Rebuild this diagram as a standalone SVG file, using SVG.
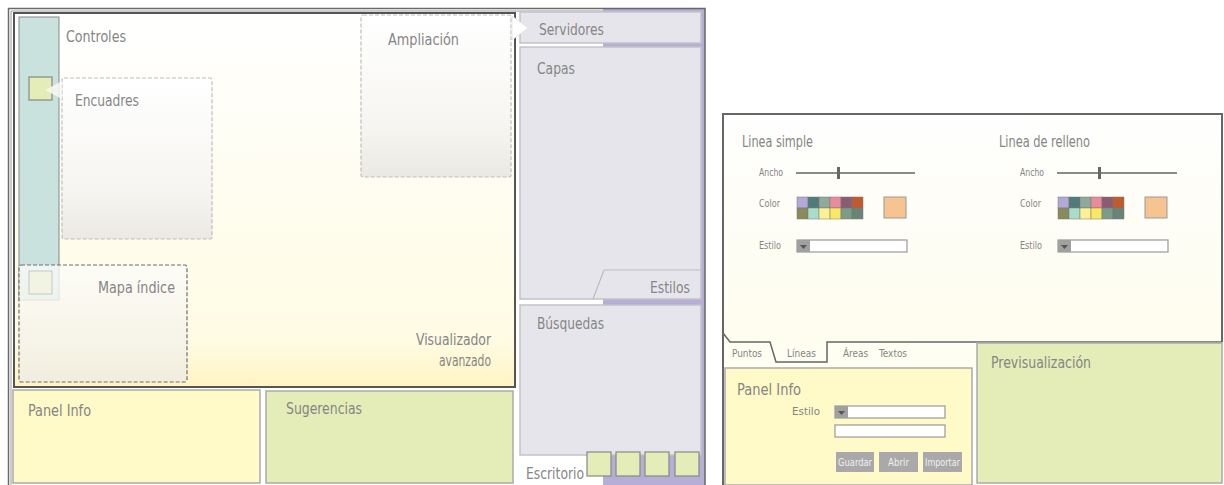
<svg xmlns="http://www.w3.org/2000/svg" width="1224" height="485" viewBox="0 0 1224 485">
<defs>
<linearGradient id="visGrad" x1="0" y1="0" x2="0" y2="1">
<stop offset="0" stop-color="#ffffff"/>
<stop offset="0.55" stop-color="#fffdee"/>
<stop offset="0.88" stop-color="#fffbe3"/>
<stop offset="1" stop-color="#fff4c2"/>
</linearGradient>
<linearGradient id="boxGrad" x1="0" y1="0" x2="0" y2="1">
<stop offset="0" stop-color="#ffffff"/>
<stop offset="0.7" stop-color="#f6f5f1"/>
<stop offset="1" stop-color="#ebe9e2"/>
</linearGradient>
<linearGradient id="mapaGrad" x1="0" y1="0" x2="0" y2="1">
<stop offset="0" stop-color="#fcfcfa" stop-opacity="0.75"/>
<stop offset="1" stop-color="#f1ede0" stop-opacity="0.92"/>
</linearGradient>
<linearGradient id="rightGrad" x1="0" y1="0" x2="0" y2="1">
<stop offset="0" stop-color="#fefefe"/>
<stop offset="1" stop-color="#fffdec"/>
</linearGradient>
<style>
.lbl{font-family:"Liberation Sans Narrow","DejaVu Sans Condensed","Liberation Sans",sans-serif;fill:#858585;font-size:16px;}
.sm{font-family:"Liberation Sans Narrow","DejaVu Sans Condensed","Liberation Sans",sans-serif;fill:#858585;font-size:11px;}
.btn{font-family:"Liberation Sans Narrow","DejaVu Sans Condensed","Liberation Sans",sans-serif;fill:#efefef;font-size:10.5px;}
.gbox{fill:#e7e5ec;stroke:#c4c2c8;stroke-width:1.5;}
.yel{fill:#fffac8;stroke:#aaaaaa;stroke-width:1.5;}
.grn{fill:#e4edb7;stroke:#aaaaaa;stroke-width:1.5;}
.sq{fill:#e4edb7;stroke:#888;stroke-width:1.2;}
.dash{stroke-dasharray:4 2;}
.inp{fill:#ffffff;stroke:#999;stroke-width:1.2;}
.ddb{fill:#a0a0a0;}
.tri{fill:#555;}
.bt{fill:#a9a9a9;}
.pc{stroke:#777;stroke-width:0.5;}
</style>
</defs>

<!-- LEFT DIAGRAM -->
<g id="outer-frame">
<rect x="603" y="8" width="102" height="477" fill="#b6aed7"/>
<path d="M603,8.5 H705 V485" fill="none" stroke="#666" stroke-width="1.5"/>
<path d="M8.5,485 V8.5 H603" fill="none" stroke="#6a6a6a" stroke-width="1.5"/>
<path d="M11,485 V11 H603" fill="none" stroke="#9a9a9a" stroke-width="1"/>
</g>

<g id="visualizador">
<rect x="14" y="13" width="501" height="374" fill="url(#visGrad)" stroke="#555" stroke-width="2"/>
<text class="lbl" x="491" y="345" text-anchor="end" textLength="75" lengthAdjust="spacingAndGlyphs">Visualizador</text>
<text class="lbl" x="491" y="366" text-anchor="end" textLength="52" lengthAdjust="spacingAndGlyphs">avanzado</text>
</g>

<g id="controles">
<rect x="19" y="17" width="40" height="283" fill="#c9e2dd" stroke="#888" stroke-width="1"/>
<text class="lbl" x="66" y="42" textLength="60" lengthAdjust="spacingAndGlyphs">Controles</text>
</g>

<g id="encuadres">
<rect x="62" y="78" width="150" height="161" rx="2" fill="url(#boxGrad)" stroke="#bdbdbd" stroke-width="1.2" class="dash"/>
<rect x="29" y="77" width="23" height="23" class="sq" stroke="#777"/>
<polygon points="62,81 45,90 62,99" fill="#f6f6f2" opacity="0.9"/>
<text class="lbl" x="75" y="106" textLength="64" lengthAdjust="spacingAndGlyphs">Encuadres</text>
</g>

<g id="ampliacion">
<rect x="361" y="15" width="150" height="162" rx="2" fill="url(#boxGrad)" stroke="#bdbdbd" stroke-width="1.2" class="dash"/>
<text class="lbl" x="388" y="45" textLength="71" lengthAdjust="spacingAndGlyphs">Ampliación</text>
</g>

<g id="mapa-indice">
<rect x="19" y="265" width="168" height="117" rx="2" fill="url(#mapaGrad)" stroke="#6e6e6e" stroke-width="1.2" class="dash"/>
<rect x="29" y="271" width="23" height="23" fill="#f1f4e2" stroke="#c8c8c0" stroke-width="1"/>
<text class="lbl" x="98" y="293" textLength="77" lengthAdjust="spacingAndGlyphs">Mapa índice</text>
</g>

<g id="panel-info">
<rect x="13" y="390" width="247" height="93" class="yel"/>
<text class="lbl" x="28" y="416" textLength="63" lengthAdjust="spacingAndGlyphs">Panel Info</text>
</g>

<g id="sugerencias">
<rect x="266" y="391" width="247" height="92" class="grn"/>
<text class="lbl" x="286" y="414" textLength="76" lengthAdjust="spacingAndGlyphs">Sugerencias</text>
</g>

<g id="servidores">
<rect x="520" y="12" width="181" height="31" class="gbox"/>
<polygon points="512,16 528,28 512,40" fill="#ffffff" stroke="#e2e2e2" stroke-width="0.8"/>
<text class="lbl" x="539" y="35" textLength="65" lengthAdjust="spacingAndGlyphs">Servidores</text>
</g>

<g id="capas">
<rect x="520" y="47" width="181" height="252" class="gbox"/>
<text class="lbl" x="537" y="74" textLength="38" lengthAdjust="spacingAndGlyphs">Capas</text>
</g>

<g id="estilos">
<path d="M593,299 L604,270 H701" fill="none" stroke="#bcbcbc" stroke-width="1.2"/>
<text class="lbl" x="690" y="293" text-anchor="end" textLength="40" lengthAdjust="spacingAndGlyphs">Estilos</text>
</g>

<g id="busquedas">
<rect x="520" y="305" width="181" height="150" class="gbox"/>
<text class="lbl" x="537" y="329" textLength="67" lengthAdjust="spacingAndGlyphs">Búsquedas</text>
</g>

<g id="escritorio">
<rect x="587" y="452" width="24" height="24" class="sq"/>
<rect x="616" y="452" width="24" height="24" class="sq"/>
<rect x="645" y="452" width="24" height="24" class="sq"/>
<rect x="675" y="452" width="24" height="24" class="sq"/>
<text class="lbl" x="526" y="479" textLength="58" lengthAdjust="spacingAndGlyphs">Escritorio</text>
</g>

<!-- RIGHT DIAGRAM -->
<g id="estilo-editor">
<rect x="723" y="114" width="499" height="254" fill="url(#rightGrad)"/>
<path d="M723,485 V114 H1222 V342" fill="none" stroke="#666" stroke-width="2"/>
<text class="lbl" x="742" y="147" font-size="15" textLength="71" lengthAdjust="spacingAndGlyphs">Linea simple</text>
<text class="lbl" x="999" y="147" font-size="15" textLength="91" lengthAdjust="spacingAndGlyphs">Linea de relleno</text>
</g>

<g id="linea-simple">
<text class="sm" x="759" y="176" textLength="24" lengthAdjust="spacingAndGlyphs">Ancho</text>
<line x1="796" y1="173" x2="915" y2="173" stroke="#8a8a8a" stroke-width="2"/>
<rect x="837" y="167" width="3" height="12" fill="#666"/>
<text class="sm" x="759" y="207" textLength="21" lengthAdjust="spacingAndGlyphs">Color</text>
<g class="pc">
<rect x="797" y="197" width="11" height="11" fill="#b2a9d8"/>
<rect x="808" y="197" width="11" height="11" fill="#4f7b79"/>
<rect x="819" y="197" width="11" height="11" fill="#8fa99b"/>
<rect x="830" y="197" width="11" height="11" fill="#e98b9a"/>
<rect x="841" y="197" width="11" height="11" fill="#8b5b71"/>
<rect x="852" y="197" width="11" height="11" fill="#c15b2b"/>
<rect x="797" y="208" width="11" height="11" fill="#8b8a5b"/>
<rect x="808" y="208" width="11" height="11" fill="#a9ddc9"/>
<rect x="819" y="208" width="11" height="11" fill="#fff193"/>
<rect x="830" y="208" width="11" height="11" fill="#f9e962"/>
<rect x="841" y="208" width="11" height="11" fill="#7c9b89"/>
<rect x="852" y="208" width="11" height="11" fill="#6a8379"/>
</g>
<rect x="884" y="197" width="22" height="21" fill="#f5c490" stroke="#999" stroke-width="1"/>
<text class="sm" x="759" y="249" textLength="22" lengthAdjust="spacingAndGlyphs">Estilo</text>
<rect x="797" y="240" width="110" height="12" class="inp"/>
<rect x="797" y="240" width="13" height="12" class="ddb"/>
<polygon points="800,245 807,245 803.5,249" class="tri"/>
</g>

<g id="linea-relleno">
<text class="sm" x="1020" y="176" textLength="24" lengthAdjust="spacingAndGlyphs">Ancho</text>
<line x1="1057" y1="173" x2="1177" y2="173" stroke="#8a8a8a" stroke-width="2"/>
<rect x="1098" y="167" width="3" height="12" fill="#666"/>
<text class="sm" x="1020" y="207" textLength="21" lengthAdjust="spacingAndGlyphs">Color</text>
<g class="pc">
<rect x="1058" y="197" width="11" height="11" fill="#b2a9d8"/>
<rect x="1069" y="197" width="11" height="11" fill="#4f7b79"/>
<rect x="1080" y="197" width="11" height="11" fill="#8fa99b"/>
<rect x="1091" y="197" width="11" height="11" fill="#e98b9a"/>
<rect x="1102" y="197" width="11" height="11" fill="#8b5b71"/>
<rect x="1113" y="197" width="11" height="11" fill="#c15b2b"/>
<rect x="1058" y="208" width="11" height="11" fill="#8b8a5b"/>
<rect x="1069" y="208" width="11" height="11" fill="#a9ddc9"/>
<rect x="1080" y="208" width="11" height="11" fill="#fff193"/>
<rect x="1091" y="208" width="11" height="11" fill="#f9e962"/>
<rect x="1102" y="208" width="11" height="11" fill="#7c9b89"/>
<rect x="1113" y="208" width="11" height="11" fill="#6a8379"/>
</g>
<rect x="1145" y="197" width="22" height="21" fill="#f5c490" stroke="#999" stroke-width="1"/>
<text class="sm" x="1020" y="249" textLength="22" lengthAdjust="spacingAndGlyphs">Estilo</text>
<rect x="1058" y="240" width="110" height="12" class="inp"/>
<rect x="1058" y="240" width="13" height="12" class="ddb"/>
<polygon points="1061,245 1068,245 1064.5,249" class="tri"/>
</g>

<g id="tabs">
<rect x="724" y="342" width="253" height="26" fill="#fffef2"/>
<path d="M723,333 L730,342 H770 L776,362 H827 V342 H1222" fill="none" stroke="#666" stroke-width="1.5"/>
<text class="sm" x="732" y="357" textLength="30" lengthAdjust="spacingAndGlyphs">Puntos</text>
<text class="sm" x="787" y="357" textLength="29" lengthAdjust="spacingAndGlyphs">Líneas</text>
<text class="sm" x="843" y="357" textLength="25" lengthAdjust="spacingAndGlyphs">Áreas</text>
<text class="sm" x="879" y="357" textLength="28" lengthAdjust="spacingAndGlyphs">Textos</text>
</g>

<g id="panel-info-2">
<rect x="725" y="368" width="247" height="117" class="yel"/>
<text class="lbl" x="737" y="395" font-size="17" textLength="64" lengthAdjust="spacingAndGlyphs">Panel Info</text>
<text class="sm" x="792" y="415" textLength="28" lengthAdjust="spacingAndGlyphs">Estilo</text>
<rect x="835" y="406" width="110" height="12" class="inp"/>
<rect x="835" y="406" width="13" height="12" class="ddb"/>
<polygon points="838,411 845,411 841.5,415" class="tri"/>
<rect x="835" y="425" width="110" height="12" class="inp"/>
<rect x="836" y="452" width="38" height="20" class="bt"/>
<text class="btn" x="838" y="466" textLength="34" lengthAdjust="spacingAndGlyphs">Guardar</text>
<rect x="879" y="452" width="39" height="20" class="bt"/>
<text class="btn" x="888" y="466" textLength="21" lengthAdjust="spacingAndGlyphs">Abrir</text>
<rect x="923" y="452" width="39" height="20" class="bt"/>
<text class="btn" x="925" y="466" textLength="35" lengthAdjust="spacingAndGlyphs">Importar</text>
</g>

<g id="previsualizacion">
<rect x="977" y="343" width="245" height="140" class="grn"/>
<text class="lbl" x="991" y="368" textLength="100" lengthAdjust="spacingAndGlyphs">Previsualización</text>
</g>
</svg>
